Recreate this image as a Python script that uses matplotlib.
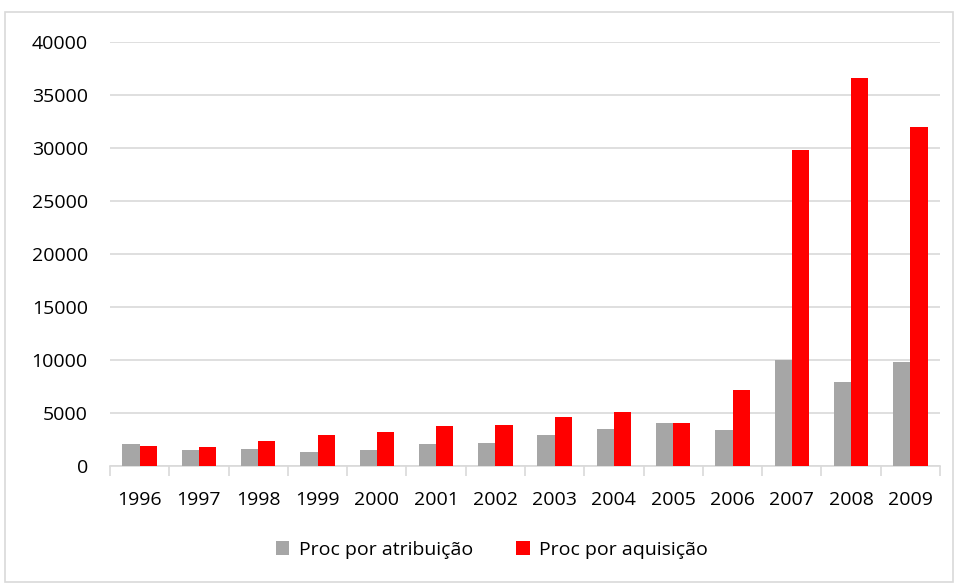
import matplotlib.pyplot as plt
import numpy as np
from matplotlib.patches import Rectangle

years = ['1996', '1997', '1998', '1999', '2000', '2001', '2002',
         '2003', '2004', '2005', '2006', '2007', '2008', '2009']
atribuicao = [2075, 1540, 1635, 1350, 1540, 2105, 2200,
              2955, 3520, 4090, 3400, 10000, 7925, 9840]
aquisicao = [1920, 1825, 2330, 2925, 3240, 3805, 3900,
             4655, 5095, 4090, 7170, 29810, 36575, 31950]

plt.rcParams['font.family'] = ['Open Sans', 'DejaVu Sans']

fig = plt.figure(figsize=(9.55, 5.83), dpi=100)
ax = fig.add_axes([110 / 955, 1 - 466 / 583, 830 / 955, 424 / 583])

x = np.arange(len(years))
w = 0.29
ax.bar(x - w / 2, atribuicao, w, color='#a6a6a6', label='Proc por atribuição', zorder=3)
ax.bar(x + w / 2, aquisicao, w, color='#ff0000', label='Proc por aquisição', zorder=3)

ax.set_xlim(-0.5, len(years) - 0.5)
ax.set_ylim(0, 40000)
ax.set_yticks(range(0, 40001, 5000))
ax.yaxis.grid(True, color='#d9d9d9', linewidth=1.2, zorder=0)
ax.tick_params(axis='y', length=0, labelsize=14, pad=16, colors='black')

# category labels without ticks, ticks on the boundaries
ax.set_xticks(x)
ax.set_xticklabels(years)
ax.tick_params(axis='x', which='major', length=0, labelsize=14, pad=18)
ax.set_xticks(np.arange(-0.5, len(years), 1), minor=True)
ax.tick_params(axis='x', which='minor', length=7, color='#d9d9d9', width=1.2)

for s in ['top', 'right', 'left']:
    ax.spines[s].set_visible(False)
ax.spines['bottom'].set_color('#d9d9d9')
ax.spines['bottom'].set_linewidth(1.2)

fig.legend(loc='center', bbox_to_anchor=(492 / 955, 1 - 550 / 583), ncol=2,
           frameon=False, fontsize=14, handlelength=0.7, handleheight=0.7,
           columnspacing=2.2, handletextpad=0.5)

# outer chart border
fig.patches.append(Rectangle((5 / 955, 0.002), 948 / 955, 1 - 12 / 583 - 0.002,
                             transform=fig.transFigure, fill=False,
                             edgecolor='#d9d9d9', linewidth=1.2))

fig.savefig('out.png', dpi=100)
